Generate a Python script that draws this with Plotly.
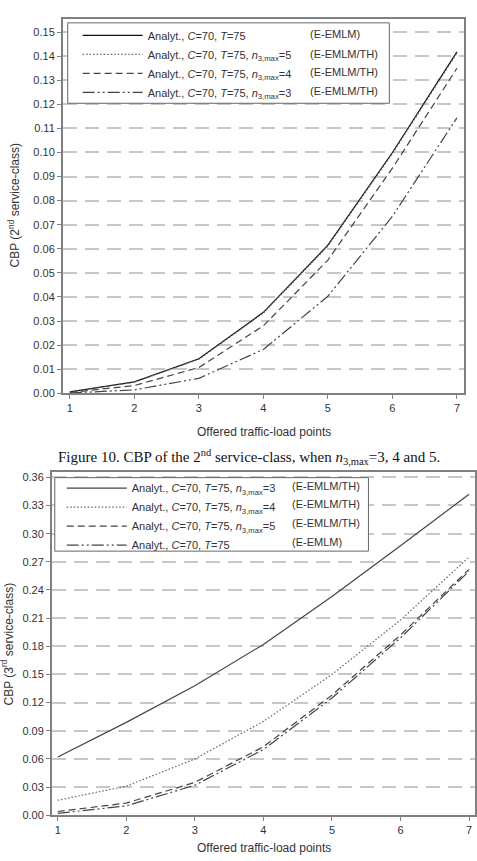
import plotly.graph_objects as go

W, H = 477, 861

load_points = [1, 2, 3, 4, 5, 6, 7]

# Figure 10 (2nd service-class)
cbp2_emlm = [0.0006, 0.0047, 0.0143, 0.0336, 0.0615, 0.1000, 0.1418]
cbp2_th5 = [0.0005, 0.0046, 0.0141, 0.0333, 0.0611, 0.0995, 0.1413]
cbp2_th4 = [0.0003, 0.0032, 0.0107, 0.0280, 0.0553, 0.0935, 0.1350]
cbp2_th3 = [0.0001, 0.0014, 0.0062, 0.0182, 0.0403, 0.0735, 0.1144]

# 3rd service-class
cbp3_th3 = [0.062, 0.099, 0.138, 0.182, 0.233, 0.287, 0.342]
cbp3_th4 = [0.016, 0.031, 0.060, 0.100, 0.150, 0.208, 0.275]
cbp3_th5 = [0.004, 0.013, 0.035, 0.073, 0.128, 0.192, 0.262]
cbp3_emlm = [0.002, 0.010, 0.032, 0.070, 0.125, 0.189, 0.260]

leg_top = [
    "Analyt., <i>C</i>=70, <i>T</i>=75",
    "Analyt., <i>C</i>=70, <i>T</i>=75, <i>n</i><sub>3,max</sub>=5",
    "Analyt., <i>C</i>=70, <i>T</i>=75, <i>n</i><sub>3,max</sub>=4",
    "Analyt., <i>C</i>=70, <i>T</i>=75, <i>n</i><sub>3,max</sub>=3",
]
model_top = ["(E-EMLM)", "(E-EMLM/TH)", "(E-EMLM/TH)", "(E-EMLM/TH)"]
leg_bot = [
    "Analyt., <i>C</i>=70, <i>T</i>=75, <i>n</i><sub>3,max</sub>=3",
    "Analyt., <i>C</i>=70, <i>T</i>=75, <i>n</i><sub>3,max</sub>=4",
    "Analyt., <i>C</i>=70, <i>T</i>=75, <i>n</i><sub>3,max</sub>=5",
    "Analyt., <i>C</i>=70, <i>T</i>=75",
]
model_bot = ["(E-EMLM/TH)", "(E-EMLM/TH)", "(E-EMLM/TH)", "(E-EMLM)"]

FONT = "Liberation Sans, Arial, sans-serif"
SERIF = "Liberation Serif, Times New Roman, serif"
DOT = "1.5px,2px"
DASH = "7px,4px"
DASHDOT = "12px,3px,2px,3px,2px,3px"

# pixel geometry of the two panels
TOP_L, TOP_R, TOP_T, TOP_B = 63, 466, 19, 396
BOT_L, BOT_R, BOT_T, BOT_B = 52, 477, 475, 821
TOP_XR, TOP_YR = [0.89, 7.11], [0, 0.1555]
BOT_XR, BOT_YR = [0.913, 7.087], [0, 0.366]

fig = go.Figure()

top_series = [cbp2_emlm, cbp2_th5, cbp2_th4, cbp2_th3]
top_styles = [("solid", "#111111"), (DOT, "#666666"), (DASH, "#444444"), (DASHDOT, "#444444")]
for name, ys, (dash, col) in zip(leg_top, top_series, top_styles):
    fig.add_trace(go.Scatter(x=load_points, y=ys, mode="lines", name=name,
                             line=dict(color=col, width=1.2, dash=dash),
                             xaxis="x", yaxis="y", legend="legend"))

bot_series = [cbp3_th3, cbp3_th4, cbp3_th5, cbp3_emlm]
bot_styles = [("solid", "#444444"), (DOT, "#666666"), (DASH, "#444444"), (DASHDOT, "#444444")]
for name, ys, (dash, col) in zip(leg_bot, bot_series, bot_styles):
    fig.add_trace(go.Scatter(x=load_points, y=ys, mode="lines", name=name,
                             line=dict(color=col, width=1.2, dash=dash),
                             xaxis="x2", yaxis="y2", legend="legend2"))

def px_x(p):
    return p / W

def px_y(p):
    return 1 - p / H

def to_data(px, lo_px, hi_px, rng):
    return rng[0] + (px - lo_px) / (hi_px - lo_px) * (rng[1] - rng[0])

axis_common = dict(showline=True, linecolor="#808080", linewidth=1.5, mirror=True,
                   ticks="outside", tickcolor="#808080", ticklen=4, zeroline=False,
                   tickfont=dict(family=FONT, size=11, color="#333333"))

fig.update_layout(
    width=W, height=H, margin=dict(l=0, r=0, t=0, b=0),
    paper_bgcolor="white", plot_bgcolor="white",
    xaxis=dict(domain=[px_x(TOP_L), px_x(TOP_R)], range=TOP_XR, anchor="y",
               tickvals=load_points, showgrid=False, **axis_common),
    yaxis=dict(domain=[px_y(TOP_B), px_y(TOP_T)], range=TOP_YR, anchor="x",
               dtick=0.01, tickformat=".2f", showgrid=True, gridcolor="#c8c8c8",
               gridwidth=2, griddash="14px,8px", **axis_common),
    xaxis2=dict(domain=[px_x(BOT_L), 1.0], range=BOT_XR, anchor="y2",
                tickvals=load_points, showgrid=False, **axis_common),
    yaxis2=dict(domain=[px_y(BOT_B), px_y(BOT_T)], range=BOT_YR, anchor="x2",
                dtick=0.03, tickformat=".2f", showgrid=True, gridcolor="#c8c8c8",
                gridwidth=2, griddash="14px,8px", **axis_common),
    legend=dict(x=px_x(78), y=px_y(21), xanchor="left", yanchor="top",
                bgcolor="rgba(0,0,0,0)", borderwidth=0, itemwidth=60,
                font=dict(family=FONT, size=11, color="#333333"), tracegroupgap=0),
    legend2=dict(x=px_x(62), y=px_y(477), xanchor="left", yanchor="top",
                 bgcolor="rgba(0,0,0,0)", borderwidth=0, itemwidth=60,
                 font=dict(family=FONT, size=11, color="#333333"), tracegroupgap=0),
    showlegend=True,
)

# legend boxes (between gridlines and traces)
fig.add_shape(type="rect", xref="x", yref="y",
              x0=to_data(68, TOP_L, TOP_R, TOP_XR), x1=to_data(391, TOP_L, TOP_R, TOP_XR),
              y0=to_data(396 - 104, 0, TOP_B - TOP_T, TOP_YR),
              y1=to_data(396 - 23, 0, TOP_B - TOP_T, TOP_YR),
              fillcolor="white", line=dict(color="#666666", width=1), layer="between")
fig.add_shape(type="rect", xref="x2", yref="y2",
              x0=to_data(55, BOT_L, BOT_R, BOT_XR), x1=to_data(370, BOT_L, BOT_R, BOT_XR),
              y0=to_data(821 - 555, 0, BOT_B - BOT_T, BOT_YR),
              y1=to_data(821 - 481, 0, BOT_B - BOT_T, BOT_YR),
              fillcolor="white", line=dict(color="#666666", width=1), layer="between")

ann = []
for txt, yy in zip(model_top, [34, 54, 73, 92]):
    ann.append(dict(text=txt, x=px_x(309), y=px_y(yy), xref="paper", yref="paper",
                    xanchor="left", yanchor="middle", showarrow=False,
                    font=dict(family=FONT, size=11, color="#333333")))
for txt, yy in zip(model_bot, [489, 508, 527, 546]):
    ann.append(dict(text=txt, x=px_x(291), y=px_y(yy), xref="paper", yref="paper",
                    xanchor="left", yanchor="middle", showarrow=False,
                    font=dict(family=FONT, size=11, color="#333333")))

ann.append(dict(text="Offered traffic-load points", x=px_x(265), y=px_y(435),
                xref="paper", yref="paper", showarrow=False, xanchor="center", yanchor="middle",
                font=dict(family=FONT, size=12, color="#333333")))
ann.append(dict(text="Offered traffic-load points", x=px_x(265), y=px_y(854),
                xref="paper", yref="paper", showarrow=False, xanchor="center", yanchor="middle",
                font=dict(family=FONT, size=12, color="#333333")))
ann.append(dict(text="CBP (2<sup>nd</sup> service-class)", x=px_x(14), y=px_y(207),
                xref="paper", yref="paper", showarrow=False, textangle=-90,
                xanchor="center", yanchor="middle",
                font=dict(family=FONT, size=12, color="#333333")))
ann.append(dict(text="CBP (3<sup>rd</sup> service-class)", x=px_x(8), y=px_y(648),
                xref="paper", yref="paper", showarrow=False, textangle=-90,
                xanchor="center", yanchor="middle",
                font=dict(family=FONT, size=12, color="#333333")))
ann.append(dict(text="Figure 10. CBP of the 2<sup>nd</sup> service-class, when <i>n</i><sub>3,max</sub>=3, 4 and 5.",
                x=px_x(250), y=px_y(460), xref="paper", yref="paper", showarrow=False,
                xanchor="center", yanchor="middle",
                font=dict(family=SERIF, size=15, color="#111111")))
fig.update_layout(annotations=ann)

fig.write_html("out.html")
